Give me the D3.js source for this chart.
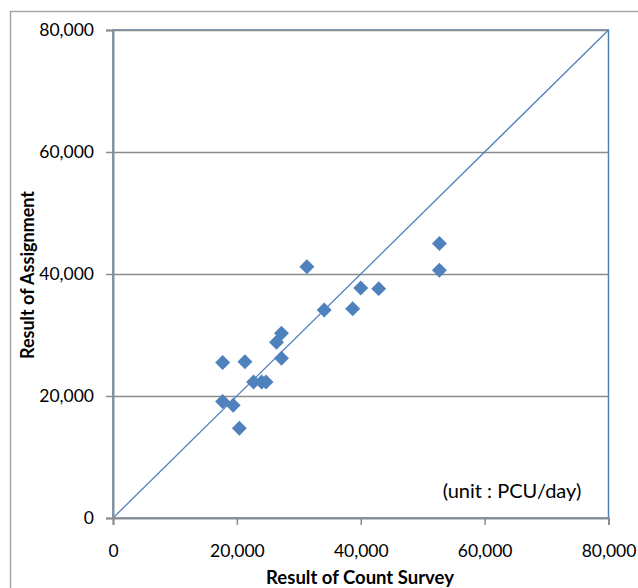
<!DOCTYPE html>
<html>
<head>
<meta charset="utf-8">
<script src="https://cdn.jsdelivr.net/npm/d3@7"></script>
<style>
  html, body { margin: 0; padding: 0; background: #fff; }
  svg { display: block; font-family: Lato, "Open Sans", sans-serif; }
</style>
</head>
<body>
<div id="chart"></div>
<script>
// ── Data ────────────────────────────────────────────────────────────────
const countSurvey = [17700, 21300, 17700, 19400, 20400, 22700, 24000, 24700, 26400,
                     27200, 27200, 31300, 34100, 38700, 40000, 42900, 52700, 52700];
const assignment  = [25500, 25600, 19100, 18500, 14700, 22300, 22300, 22300, 28800,
                     30300, 26200, 41200, 34100, 34300, 37700, 37600, 45000, 40600];
const tickValues = [0, 20000, 40000, 60000, 80000];
const axisMax = 80000;

// ── Palette ─────────────────────────────────────────────────────────────
const BLUE = "#4f81bd";
const GRID = "#8c8c8c";

const W = 638, H = 588;
const margin = { top: 30, right: 29.5, bottom: 70, left: 113 };
const width = W - margin.left - margin.right;
const height = H - margin.top - margin.bottom;

const root = d3.select("#chart").append("svg")
  .attr("width", W).attr("height", H);

// Outer chart border
root.append("rect")
  .attr("x", 10.5).attr("y", 11.5).attr("width", 700).attr("height", 700)
  .attr("fill", "none").attr("stroke", "#a6a6a6").attr("stroke-width", 1.5);

const svg = root.append("g").attr("transform", `translate(${margin.left},${margin.top})`);

const x = d3.scaleLinear().domain([0, axisMax]).range([0, width]);
const y = d3.scaleLinear().domain([0, axisMax]).range([height, 0]);

// Plot area border (blue)
svg.append("rect")
  .attr("x", 0).attr("y", 0).attr("width", width).attr("height", height)
  .attr("fill", "none").attr("stroke", BLUE).attr("stroke-width", 1.5);

// Horizontal grid lines
svg.append("g").attr("class", "grid")
  .call(d3.axisLeft(y).tickValues(tickValues.slice(1)).tickSize(-width).tickFormat(""))
  .call(g => g.select(".domain").remove())
  .selectAll("line").attr("stroke", GRID).attr("stroke-width", 1.5);

// Diagonal y = x
svg.append("line")
  .attr("x1", x(0)).attr("y1", y(0)).attr("x2", x(axisMax)).attr("y2", y(axisMax))
  .attr("stroke", BLUE).attr("stroke-width", 1.3);

// Axes
const fmt = d3.format(",");
const xAxis = svg.append("g").attr("transform", `translate(0,${height})`)
  .call(d3.axisBottom(x).tickValues(tickValues).tickFormat(fmt).tickSize(7).tickPadding(20));
const yAxis = svg.append("g")
  .call(d3.axisLeft(y).tickValues(tickValues).tickFormat(fmt).tickSize(7).tickPadding(12));

[xAxis, yAxis].forEach(a => {
  a.select(".domain").attr("stroke", GRID).attr("stroke-width", 2);
  a.selectAll(".tick line").attr("stroke", GRID).attr("stroke-width", 1.5);
  a.selectAll("text").attr("fill", "#000").style("font-size", "17.5px")
    .style("font-family", "Lato, sans-serif");
});

// Points (diamonds)
const diamond = d3.symbol().type(d3.symbolSquare).size(112);
svg.selectAll(".pt").data(countSurvey).enter().append("path")
  .attr("d", diamond)
  .attr("transform", (d, i) => `translate(${x(d)},${y(assignment[i])}) rotate(45)`)
  .attr("fill", BLUE);

// Unit label
root.append("text")
  .attr("x", 512).attr("y", 498)
  .attr("text-anchor", "middle")
  .style("font-size", "20px")
  .text("(unit : PCU/day)");

// Axis titles
root.append("text")
  .attr("x", 360).attr("y", 584)
  .attr("text-anchor", "middle")
  .style("font-size", "18.5px").style("font-weight", "bold")
  .text("Result of Count Survey");

root.append("text")
  .attr("transform", "translate(34,275) rotate(-90)")
  .attr("text-anchor", "middle")
  .style("font-size", "18px").style("font-weight", "bold")
  .text("Result of Assignment");
</script>
</body>
</html>
